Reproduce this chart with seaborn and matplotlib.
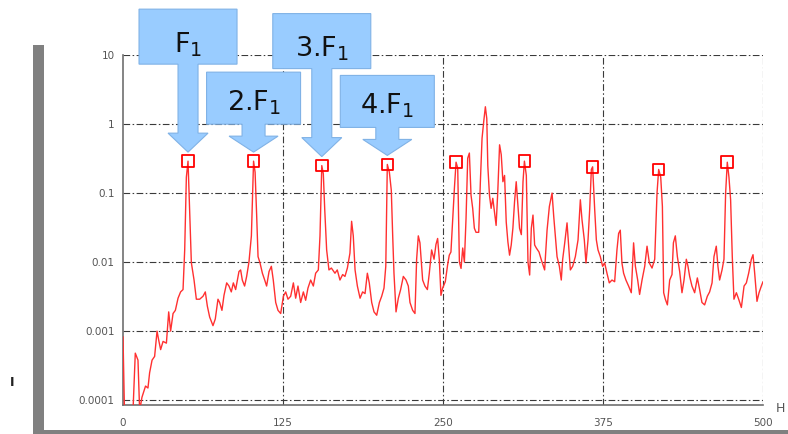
import numpy as np
import pandas as pd
import matplotlib
matplotlib.use("Agg")
import matplotlib.pyplot as plt
import seaborn as sns
from matplotlib.patches import Polygon, Rectangle
from matplotlib.transforms import IdentityTransform
from matplotlib.ticker import FixedLocator, FixedFormatter, MultipleLocator, LogLocator, NullFormatter

# Spectrum: frequency (Hz) and amplitude
freq = [
    0.0, 1.3, 7.5, 9.6, 11.7, 13.0, 14.8, 17.6, 19.5, 20.8, 22.7, 24.7, 26.6, 27.9, 29.4,
    31.3, 33.9, 35.7, 37.2, 39.1, 40.9, 43.0, 45.0, 46.9, 48.2, 49.5, 50.8, 52.1, 53.4,
    55.5, 57.3, 59.9, 62.5, 64.3, 65.9, 67.7, 70.3, 72.1, 74.2, 75.5, 77.3, 78.9, 81.0,
    82.8, 84.6, 86.2, 88.0, 90.6, 91.9, 93.2, 95.0, 96.6, 98.4, 100.3, 102.0, 103.2,
    104.4, 105.5, 107.0, 108.9, 110.7, 112.2, 114.1, 115.9, 117.4, 119.3, 121.1, 123.2,
    125.3, 127.1, 128.9, 131.0, 133.1, 134.9, 136.7, 138.8, 140.9, 142.7, 144.5, 146.6,
    148.7, 150.5, 152.6, 153.9, 155.3, 156.5, 157.6, 159.1, 160.9, 162.8, 165.6, 167.4,
    169.5, 171.6, 173.4, 175.3, 177.3, 178.6, 179.9, 181.3, 183.1, 185.2, 187.2, 189.1,
    190.9, 192.4, 194.3, 196.1, 198.2, 200.3, 202.1, 203.9, 205.3, 206.5, 208.1, 209.6,
    210.7, 211.7, 213.3, 215.1, 216.9, 219.0, 221.1, 222.9, 224.2, 226.3, 228.1, 229.4,
    230.7, 232.0, 234.1, 235.9, 237.8, 239.3, 241.1, 243.0, 244.5, 245.8, 247.1, 248.4,
    249.7, 251.8, 253.6, 254.9, 256.2, 257.6, 258.9, 260.2, 261.5, 262.8, 264.1, 265.4,
    266.7, 268.0, 269.3, 270.6, 271.9, 273.2, 274.5, 275.8, 277.9, 279.2, 280.5, 281.8,
    283.1, 284.2, 285.0, 286.3, 287.6, 288.9, 290.2, 291.5, 292.8, 294.2, 295.5, 296.8,
    298.1, 299.4, 300.7, 302.0, 303.3, 304.6, 305.9, 307.2, 308.5, 309.8, 311.2, 312.5,
    313.6, 315.1, 316.4, 317.7, 319.0, 320.3, 321.6, 322.9, 325.0, 327.0, 329.4, 331.3,
    333.1, 335.2, 336.5, 337.8, 339.1, 340.9, 342.4, 343.5, 345.1, 346.9, 348.2, 349.5,
    351.3, 353.4, 355.5, 357.3, 358.6, 360.4, 361.7, 363.3, 364.6, 365.9, 366.9, 368.5,
    369.8, 371.1, 372.9, 374.7, 376.3, 378.1, 379.9, 382.0, 384.1, 385.9, 387.2, 388.5,
    389.8, 391.1, 392.9, 395.0, 397.1, 398.9, 400.3, 402.1, 403.6, 405.5, 407.6, 409.4,
    411.2, 413.3, 415.4, 417.2, 418.5, 420.1, 421.4, 422.4, 423.7, 425.3, 427.1, 428.9,
    430.0, 431.5, 433.1, 434.9, 436.7, 438.3, 440.1, 441.4, 442.7, 444.5, 446.6, 448.7,
    450.5, 452.3, 454.4, 456.5, 458.3, 460.2, 461.7, 463.5, 464.8, 466.1, 468.0, 469.5,
    470.8, 472.1, 473.4, 474.7, 476.0, 477.3, 479.2, 481.0, 483.1, 485.2, 487.0, 488.8,
    490.9, 492.2, 493.5, 495.3, 496.9, 498.7, 500.0,
]
amplitude = [
    0.00083, 0.00005, 0.00005, 0.00048, 0.00038, 0.00007, 0.00011, 0.00016, 0.00015,
    0.00025, 0.00038, 0.00043, 0.001, 0.00074, 0.00054, 0.00071, 0.00067, 0.0019, 0.001,
    0.0018, 0.002, 0.003, 0.0037, 0.004, 0.015, 0.17, 0.29, 0.054, 0.0098, 0.0055, 0.0029,
    0.0029, 0.0032, 0.0037, 0.0023, 0.0016, 0.0012, 0.0015, 0.0029, 0.0026, 0.002, 0.0033,
    0.005, 0.0045, 0.0037, 0.005, 0.004, 0.0073, 0.0077, 0.0055, 0.0045, 0.0062, 0.010,
    0.024, 0.29, 0.2, 0.049, 0.012, 0.0098, 0.0069, 0.0055, 0.0045, 0.0073, 0.0087, 0.0055,
    0.0026, 0.002, 0.0018, 0.0032, 0.0037, 0.0029, 0.0032, 0.005, 0.003, 0.0045, 0.0026,
    0.0037, 0.0028, 0.0042, 0.0055, 0.0045, 0.0069, 0.0077, 0.024, 0.25, 0.19, 0.058, 0.015,
    0.0077, 0.0082, 0.0069, 0.0077, 0.0055, 0.0066, 0.0062, 0.0082, 0.0135, 0.039, 0.024,
    0.0077, 0.0045, 0.003, 0.0037, 0.0035, 0.0069, 0.005, 0.0026, 0.0019, 0.0017, 0.0026,
    0.0032, 0.0042, 0.0087, 0.26, 0.2, 0.11, 0.024, 0.0069, 0.0019, 0.003, 0.004, 0.0062,
    0.0055, 0.0045, 0.0026, 0.002, 0.0018, 0.011, 0.024, 0.019, 0.0055, 0.0045, 0.004,
    0.0069, 0.015, 0.011, 0.018, 0.022, 0.011, 0.0033, 0.0042, 0.0052, 0.0091, 0.0126,
    0.014, 0.043, 0.117, 0.28, 0.23, 0.01, 0.0081, 0.016, 0.01, 0.043, 0.32, 0.38, 0.093,
    0.06, 0.031, 0.027, 0.027, 0.146, 0.62, 1.08, 1.78, 1.2, 0.25, 0.093, 0.06, 0.084,
    0.054, 0.034, 0.105, 0.5, 0.36, 0.146, 0.18, 0.038, 0.0196, 0.0126, 0.0177, 0.031,
    0.075, 0.146, 0.067, 0.031, 0.025, 0.146, 0.29, 0.18, 0.01, 0.0065, 0.031, 0.048,
    0.0177, 0.016, 0.014, 0.0105, 0.0077, 0.029, 0.064, 0.1, 0.046, 0.024, 0.012, 0.0087,
    0.0055, 0.011, 0.019, 0.037, 0.017, 0.0077, 0.0087, 0.012, 0.021, 0.08, 0.041, 0.021,
    0.0097, 0.021, 0.058, 0.22, 0.24, 0.058, 0.021, 0.015, 0.012, 0.0087, 0.0097, 0.0069,
    0.005, 0.0055, 0.0052, 0.015, 0.026, 0.029, 0.0097, 0.0069, 0.0055, 0.0045, 0.0036,
    0.019, 0.0087, 0.0055, 0.0034, 0.0055, 0.0087, 0.017, 0.0097, 0.0082, 0.011, 0.1,
    0.22, 0.17, 0.064, 0.0036, 0.0029, 0.0024, 0.0055, 0.0066, 0.019, 0.024, 0.012, 0.0073,
    0.0036, 0.0055, 0.011, 0.0087, 0.0062, 0.0045, 0.0036, 0.0059, 0.004, 0.0026, 0.0024,
    0.0032, 0.0037, 0.005, 0.012, 0.017, 0.0087, 0.0055, 0.0077, 0.011, 0.1, 0.28, 0.17,
    0.08, 0.012, 0.0029, 0.0036, 0.0029, 0.0022, 0.0045, 0.005, 0.0069, 0.011, 0.0128,
    0.0069, 0.0027, 0.0036, 0.0045, 0.0052,
]

# Harmonic peaks of the fundamental F1
harmonic_freq = [50.8, 102.0, 155.3, 206.5, 260.2, 313.6, 366.9, 418.5, 472.1]
callout_labels = ["F$_1$", "2.F$_1$", "3.F$_1$", "4.F$_1$"]

x_ticks = [0, 125, 250, 375, 500]
y_ticks = [0.0001, 0.001, 0.01, 0.1, 1, 10]
y_tick_labels = ["0.0001", "0.001", "0.01", "0.1", "1", "10"]

spectrum = pd.DataFrame({"freq": freq, "amp": amplitude})
peak_lookup = dict(zip(freq, amplitude))
peaks = pd.DataFrame({"freq": harmonic_freq,
                      "amp": [peak_lookup[f] for f in harmonic_freq]})

sns.set_style("white")
plt.rcParams["font.family"] = ["DejaVu Sans"]
plt.rcParams["mathtext.fontset"] = "dejavusans"

W, H = 788, 434
fig = plt.figure(figsize=(W / 100, H / 100), dpi=100)
ax = fig.add_axes([123 / W, (H - 405) / H, (763 - 123) / W, (405 - 55) / H])

sns.lineplot(data=spectrum, x="freq", y="amp", ax=ax, estimator=None, sort=False,
             color="#ff3030", linewidth=1.0, zorder=3)
sns.scatterplot(data=peaks, x="freq", y="amp", ax=ax, marker="s", s=70,
                facecolor="none", edgecolor="#ff0000", linewidth=1.3, zorder=4)

ax.set_yscale("log")
ax.set_xlim(0, 500)
ax.set_ylim(10 ** -4.07, 10)
ax.set_xlabel("")
ax.set_ylabel("")

# Axes, ticks and dash-dot grid
for side in ("top", "right"):
    ax.spines[side].set_visible(False)
for side in ("left", "bottom"):
    ax.spines[side].set_color("#6f6f6f")
    ax.spines[side].set_linewidth(1.2)

ax.xaxis.set_major_locator(FixedLocator(x_ticks))
ax.xaxis.set_minor_locator(MultipleLocator(12.5))
ax.yaxis.set_major_locator(FixedLocator(y_ticks))
ax.yaxis.set_major_formatter(FixedFormatter(y_tick_labels))
ax.yaxis.set_minor_locator(LogLocator(base=10, subs=np.arange(2, 10)))
ax.yaxis.set_minor_formatter(NullFormatter())
ax.tick_params(which="major", direction="out", length=4, width=1, color="#666666",
               labelsize=7.5, labelcolor="#555555", pad=2)
ax.tick_params(which="minor", direction="out", length=2, width=0.8, color="#666666")
ax.tick_params(axis="x", which="major", pad=5)

grid_style = dict(color="#3a3a3a", linewidth=0.8, linestyle=(0, (6, 2.2, 1.4, 2.2)))
for yv in y_ticks:
    ax.axhline(yv, zorder=1, **grid_style)
for xv in x_ticks[1:]:
    ax.axvline(xv, zorder=1, **grid_style)

# Down-arrow callouts pointing at the first four harmonics
fig.canvas.draw()
for i, label in enumerate(callout_labels):
    f = harmonic_freq[i]
    tx, ty = ax.transData.transform((f, peak_lookup[f]))
    ty += 9
    tall = (i % 2 == 0)
    if tall:
        sh, hh, hy, bb, bt, bw, base = 10, 20, 19, 88, 143, 49, 100
    else:
        sh, hh, hy, bb, bt, bw, base = 11.5, 24.5, 16, 28, 80, 47, 42
    outline = [(0, 0), (hh, hy), (sh, hy), (sh, bb), (bw, bb), (bw, bt), (-bw, bt),
               (-bw, bb), (-sh, bb), (-sh, hy), (-hh, hy)]
    poly = Polygon([(tx + dx, ty + dy) for dx, dy in outline], closed=True,
                   facecolor="#99ccff", edgecolor="#80b2e6", linewidth=0.8,
                   transform=IdentityTransform(), zorder=5)
    fig.add_artist(poly)
    fig.text(tx, ty + base, label, transform=IdentityTransform(), ha="center",
             va="baseline", fontsize=19.5, color="#111111", zorder=6)

# Grey frame along the left and bottom edges
fig.add_artist(Rectangle((33 / W, 0), 11 / W, (H - 45) / H, transform=fig.transFigure,
                         facecolor="#808080", edgecolor="none"))
fig.add_artist(Rectangle((33 / W, 0), 1 - 33 / W, 4 / H, transform=fig.transFigure,
                         facecolor="#808080", edgecolor="none"))

fig.text(12 / W, 1 - 383 / H, "I", ha="center", va="center", fontsize=9,
         fontweight="bold", color="#222222")
fig.text(780 / W, 1 - 408 / H, "H", ha="center", va="center", fontsize=9,
         color="#555555")

fig.savefig("out.png", dpi=100)
